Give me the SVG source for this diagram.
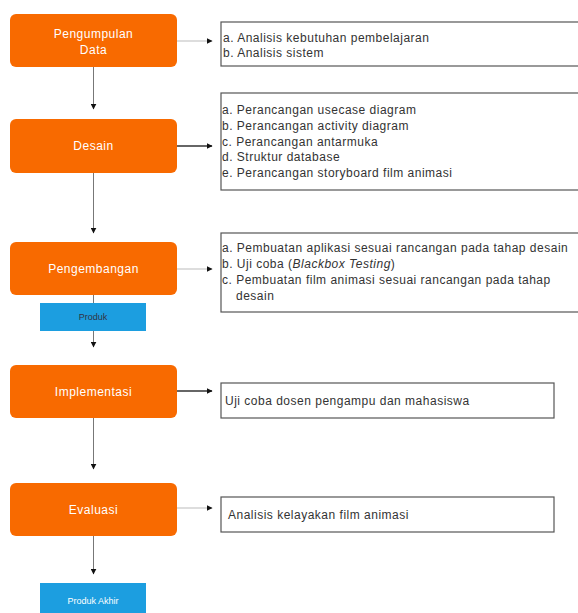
<svg xmlns="http://www.w3.org/2000/svg" width="578" height="613" viewBox="0 0 578 613">
<defs>
<marker id="ah" viewBox="0 0 10 10" refX="9" refY="5" markerWidth="6" markerHeight="6" markerUnits="userSpaceOnUse" orient="auto"><path d="M0,0 L10,5 L0,10 z" fill="#111"/></marker>
<style>
.step{fill:#f86a00;}
.stepText{font-family:"Liberation Sans",Arial,sans-serif;font-size:12px;letter-spacing:0.5px;fill:#fff;text-anchor:middle;}
.prod{fill:#1c9ee0;}
.prodText{font-family:"Liberation Sans",Arial,sans-serif;font-size:9px;text-anchor:middle;}
.note{fill:#fff;stroke:#555;stroke-width:1.2;}
.noteText{font-family:"Liberation Sans",Arial,sans-serif;font-size:12px;letter-spacing:0.5px;fill:#333;}
.c{fill:none;stroke:#777;stroke-width:1;}
.cd{fill:none;stroke:#333;stroke-width:1.5;}
.cl{fill:none;stroke:#bbb;stroke-width:1;}
</style>
</defs>
<g id="connectors">
<line class="c" x1="93.5" y1="67" x2="93.5" y2="109" marker-end="url(#ah)"/>
<line class="c" x1="93.5" y1="173" x2="93.5" y2="233" marker-end="url(#ah)"/>
<line class="c" x1="93.5" y1="295" x2="93.5" y2="303"/>
<line class="c" x1="93.5" y1="331" x2="93.5" y2="347" marker-end="url(#ah)"/>
<line class="c" x1="93.5" y1="418" x2="93.5" y2="469" marker-end="url(#ah)"/>
<line class="c" x1="93.5" y1="536" x2="93.5" y2="574" marker-end="url(#ah)"/>
<line class="cl" x1="177" y1="41" x2="212" y2="41" marker-end="url(#ah)"/>
<line class="cd" x1="177" y1="146" x2="212" y2="146" marker-end="url(#ah)"/>
<line class="cl" x1="177" y1="269" x2="212" y2="269" marker-end="url(#ah)"/>
<line class="cd" x1="177" y1="391" x2="212" y2="391" marker-end="url(#ah)"/>
<line class="cl" x1="177" y1="508" x2="212" y2="508" marker-end="url(#ah)"/>
</g>
<g id="pengumpulan">
<rect class="step" x="10" y="14" width="167" height="53" rx="6"/>
<text class="stepText" x="93.5" y="38">Pengumpulan</text>
<text class="stepText" x="93.5" y="54">Data</text>
</g>
<g id="desain">
<rect class="step" x="10" y="119" width="167" height="54" rx="6"/>
<text class="stepText" x="93.5" y="150">Desain</text>
</g>
<g id="pengembangan">
<rect class="step" x="10" y="242" width="167" height="53" rx="6"/>
<text class="stepText" x="93.5" y="273">Pengembangan</text>
</g>
<g id="produk">
<rect class="prod" x="40" y="303" width="106" height="28"/>
<text class="prodText" x="93" y="320" fill="#334">Produk</text>
</g>
<g id="implementasi">
<rect class="step" x="10" y="365" width="167" height="53" rx="6"/>
<text class="stepText" x="93.5" y="396">Implementasi</text>
</g>
<g id="evaluasi">
<rect class="step" x="10" y="483" width="167" height="53" rx="6"/>
<text class="stepText" x="93.5" y="514">Evaluasi</text>
</g>
<g id="produkAkhir">
<rect class="prod" x="40" y="583" width="106" height="32"/>
<text class="prodText" x="93" y="604" fill="#fff">Produk Akhir</text>
</g>
<g id="note1">
<rect class="note" x="221" y="22" width="360" height="44"/>
<text class="noteText" x="223" y="42">a. Analisis kebutuhan pembelajaran</text>
<text class="noteText" x="223" y="57">b. Analisis sistem</text>
</g>
<g id="note2">
<rect class="note" x="221" y="93" width="360" height="97"/>
<text class="noteText" x="222" y="114">a. Perancangan usecase diagram</text>
<text class="noteText" x="222" y="130">b. Perancangan activity diagram</text>
<text class="noteText" x="222" y="146">c. Perancangan antarmuka</text>
<text class="noteText" x="222" y="161">d. Struktur database</text>
<text class="noteText" x="222" y="177">e. Perancangan storyboard film animasi</text>
</g>
<g id="note3">
<rect class="note" x="221" y="233" width="360" height="79"/>
<text class="noteText" x="222" y="252">a. Pembuatan aplikasi sesuai rancangan pada tahap desain</text>
<text class="noteText" x="222" y="268">b. Uji coba (<tspan font-style="italic">Blackbox Testing</tspan>)</text>
<text class="noteText" x="222" y="284">c. Pembuatan film animasi sesuai rancangan pada tahap</text>
<text class="noteText" x="236" y="300">desain</text>
</g>
<g id="note4">
<rect class="note" x="221" y="383" width="333" height="35"/>
<text class="noteText" x="225" y="405">Uji coba dosen pengampu dan mahasiswa</text>
</g>
<g id="note5">
<rect class="note" x="221" y="497" width="333" height="35"/>
<text class="noteText" x="228" y="519">Analisis kelayakan film animasi</text>
</g>
</svg>
